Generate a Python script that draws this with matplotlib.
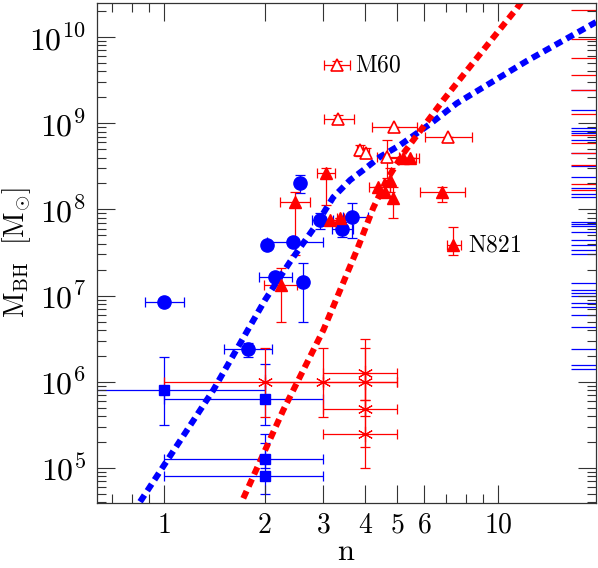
import numpy as np
import matplotlib
matplotlib.use('Agg')
import matplotlib.pyplot as plt
from matplotlib.ticker import FixedLocator, FixedFormatter, LogLocator, FuncFormatter, NullFormatter

plt.rcParams['mathtext.fontset'] = 'cm'
plt.rcParams['font.family'] = 'serif'
plt.rcParams['font.serif'] = ['cmr10', 'DejaVu Serif']
plt.rcParams['axes.formatter.use_mathtext'] = True

# Sersic galaxies (blue circles)
sersic_n = [1.00, 1.78, 2.03, 2.44, 2.55, 2.15, 2.61, 2.93, 3.65, 3.40]
sersic_m = [8.4e6, 2.4e6, 3.9e7, 4.2e7, 2.0e8, 1.66e7, 1.45e7, 7.5e7, 8.2e7, 6.0e7]
sersic_n_lo = [0.877, 1.51, 2.03, 2.03, 2.55, 1.92, 2.61, 2.77, 3.44, 3.18]
sersic_n_hi = [1.148, 2.10, 2.03, 3.00, 2.55, 2.41, 2.61, 3.21, 4.09, 3.69]
sersic_m_lo = [8.4e6, 1.96e6, 3.9e7, 4.2e7, 1.54e8, 1.66e7, 5.0e6, 6.0e7, 4.6e7, 4.8e7]
sersic_m_hi = [8.4e6, 2.82e6, 3.9e7, 4.2e7, 2.5e8, 1.66e7, 2.37e7, 9.0e7, 1.18e8, 7.2e7]

# blue squares
sq_n = [1.0, 2.0, 2.0, 2.0]
sq_m = [8.0e5, 6.3e5, 1.26e5, 8.0e4]
sq_n_lo = [0.5, 1.0, 1.0, 1.0]
sq_n_hi = [2.0, 3.0, 3.0, 3.0]
sq_m_lo = [3.16e5, 3.16e5, 9.9e4, 5.0e4]
sq_m_hi = [1.95e6, 1.6e6, 2.5e5, 1.96e5]

# red asterisks
ast_n = [2.0, 3.0, 4.0, 4.0, 4.0, 4.0]
ast_m = [9.9e5, 1.0e6, 1.26e6, 1.0e6, 4.9e5, 2.5e5]
ast_n_lo = [1.0, 2.0, 3.0, 3.0, 3.0, 3.0]
ast_n_hi = [3.0, 5.0, 5.0, 5.0, 5.0, 5.0]
ast_m_lo = [3.9e5, 3.9e5, 6.2e5, 4.0e5, 1.75e5, 1.0e5]
ast_m_hi = [2.5e6, 2.45e6, 3.1e6, 2.5e6, 1.25e6, 6.2e5]

# core-Sersic galaxies (red filled triangles)
cs_n = [2.24, 2.47, 3.06, 3.14, 3.37, 4.38, 4.59, 4.86, 4.75, 5.20, 5.45, 6.78, 7.35]
cs_m = [1.33e7, 1.23e8, 2.67e8, 7.5e7, 7.9e7, 1.83e8, 1.6e8, 1.35e8, 2.19e8, 4.0e8, 3.9e8, 1.6e8, 3.87e7]
cs_n_lo = [1.99, 2.22, 2.87, 3.00, 3.30, 4.12, 4.59, 4.86, 4.75, 4.70, 5.10, 5.84, 7.05]
cs_n_hi = [2.50, 2.74, 3.25, 3.48, 3.45, 4.75, 4.59, 4.86, 4.75, 5.70, 5.80, 7.96, 7.73]
cs_m_lo = [4.98e6, 2.96e7, 1.12e8, 7.5e7, 7.9e7, 1.83e8, 1.6e8, 7.9e7, 1.6e8, 4.0e8, 3.9e8, 1.23e8, 2.96e7]
cs_m_hi = [2.07e7, 1.6e8, 3.0e8, 7.5e7, 7.9e7, 1.83e8, 1.6e8, 1.83e8, 3.0e8, 4.0e8, 3.9e8, 1.83e8, 6.3e7]

# red open triangles
op_n = [3.29, 3.32, 4.88, 7.07, 3.86, 4.03, 4.64]
op_m = [4.73e9, 1.12e9, 9.1e8, 6.97e8, 4.9e8, 4.5e8, 4.1e8]
op_n_lo = [3.02, 3.02, 4.19, 6.05, 3.78, 3.95, 4.34]
op_n_hi = [3.60, 3.71, 5.71, 8.34, 3.95, 4.12, 5.05]
op_m_lo = [4.2e9, 1.0e9, 9.1e8, 6.97e8, 4.2e8, 3.9e8, 2.3e8]
op_m_hi = [5.3e9, 1.25e9, 9.1e8, 6.97e8, 5.6e8, 5.2e8, 6.4e8]

# relations (dotted curves)
blue_fit_n = [0.848, 1.405, 2.006, 2.384, 2.83, 3.213, 3.606, 3.95, 4.43, 5.09, 6.26, 7.52, 12.19, 19.65]
blue_fit_m = [4.06e4, 8.04e5, 8.89e6, 2.47e7, 6.3e7, 1.39e8, 2.19e8, 2.86e8, 4.06e8, 5.58e8, 9.8e8, 1.70e9, 5.27e9, 1.49e10]
red_fit_n = [1.727, 2.276, 3.0, 3.78, 4.23, 4.64, 5.21, 6.86, 9.03, 11.38, 11.96]
red_fit_m = [4.45e4, 4.71e5, 3.99e6, 3.38e7, 1.04e8, 2.19e8, 4.48e8, 1.86e9, 7.06e9, 2.15e10, 2.83e10]

# log M_BH of galaxies without n (right-hand rug)
red_rug = [10.31, 9.98, 9.76, 9.56, 9.385, 9.11, 8.86, 8.77, 8.655, 8.51, 8.295, 8.225]
blue_rug = [9.385, 9.15, 8.945, 8.91, 8.885, 8.805, 8.655, 8.505, 8.375, 8.25, 8.18, 8.145,
            7.855, 7.83, 7.81, 7.74, 7.645, 7.585, 7.53, 7.485, 7.145, 7.065, 7.03, 6.995,
            6.915, 6.87, 6.775, 6.635, 6.38, 6.195, 6.15]


def errs(v, lo, hi):
    v = np.array(v)
    return [v - np.array(lo), np.array(hi) - v]


fig = plt.figure(figsize=(5.98, 5.68), dpi=100)
ax = fig.add_axes([0.1622, 0.1153, 0.8345, 0.8794])
ax.set_xscale('log')
ax.set_yscale('log')

eb = dict(fmt='none', elinewidth=0.9, capsize=3.4, capthick=0.9, zorder=1)
ax.errorbar(sersic_n, sersic_m, xerr=errs(sersic_n, sersic_n_lo, sersic_n_hi),
            yerr=errs(sersic_m, sersic_m_lo, sersic_m_hi), ecolor='blue', **eb)
ax.errorbar(sq_n, sq_m, xerr=errs(sq_n, sq_n_lo, sq_n_hi),
            yerr=errs(sq_m, sq_m_lo, sq_m_hi), ecolor='blue', **eb)
ax.errorbar(ast_n, ast_m, xerr=errs(ast_n, ast_n_lo, ast_n_hi),
            yerr=errs(ast_m, ast_m_lo, ast_m_hi), ecolor='red', **eb)
ax.errorbar(cs_n, cs_m, xerr=errs(cs_n, cs_n_lo, cs_n_hi),
            yerr=errs(cs_m, cs_m_lo, cs_m_hi), ecolor='red', **eb)
ax.errorbar(op_n, op_m, xerr=errs(op_n, op_n_lo, op_n_hi),
            yerr=errs(op_m, op_m_lo, op_m_hi), ecolor='red', **eb)

dots = (0, (1.3, 0.85))
ax.plot(blue_fit_n, blue_fit_m, color='blue', lw=4.4, ls=dots, dash_capstyle='butt', zorder=2)
ax.plot(red_fit_n, red_fit_m, color='red', lw=4.4, ls=dots, dash_capstyle='butt', zorder=2)

ax.plot(sersic_n, sersic_m, 'o', color='blue', ms=9.5, zorder=3)
ax.plot(sq_n, sq_m, 's', color='blue', ms=7, zorder=3)
ax.plot(ast_n, ast_m, ls='none', marker=(6, 2, 0), color='red', ms=11, mew=0.8, zorder=3)
ax.plot(cs_n, cs_m, '^', color='red', ms=8, zorder=3)
ax.plot(op_n, op_m, '^', mfc='white', mec='red', mew=1.2, ms=8, zorder=3)

ax.hlines(10 ** np.array(blue_rug), 16.5, 20, color='blue', lw=0.9, zorder=1)
ax.hlines(10 ** np.array(red_rug), 16.5, 20, color='red', lw=0.9, zorder=1)

ax.text(3.73, 4.73e9, r'$\mathrm{M60}$', fontsize=17, va='center', ha='left')
ax.text(8.13, 3.87e7, r'$\mathrm{N821}$', fontsize=17, va='center', ha='left')

ax.set_xlim(0.63, 19.65)
ax.set_ylim(3.98e4, 2.48e10)

ax.xaxis.set_major_locator(FixedLocator([1, 2, 3, 4, 5, 6, 10]))
ax.xaxis.set_major_formatter(FixedFormatter([r'$1$', r'$2$', r'$3$', r'$4$', r'$5$', r'$6$', r'$10$']))
ax.xaxis.set_minor_locator(FixedLocator([0.7, 0.8, 0.9, 7, 8, 9]))
ax.xaxis.set_minor_formatter(NullFormatter())
ax.yaxis.set_major_locator(LogLocator(base=10))
ax.yaxis.set_minor_locator(LogLocator(base=10, subs=np.arange(2, 10)))
ax.yaxis.set_major_formatter(FuncFormatter(lambda v, p: r'$10^{%d}$' % round(np.log10(v))))
ax.yaxis.set_minor_formatter(NullFormatter())

ax.tick_params(which='both', direction='in', top=True, right=True, width=0.8, color='#333333')
ax.tick_params(which='major', length=13)
ax.tick_params(which='minor', length=6.5)
ax.tick_params(axis='x', labelsize=20, pad=7)
ax.tick_params(axis='y', labelsize=23, pad=8)
for s in ax.spines.values():
    s.set_linewidth(0.9)
    s.set_color('#333333')

ax.set_xlabel(r'$\mathrm{n}$', fontsize=22, labelpad=0)
ax.set_ylabel(r'$\mathrm{M_{BH}\ \ [M_{\odot}]}$', fontsize=20)
ax.yaxis.set_label_coords(-0.128, 0.5)

fig.savefig('out.png', dpi=100)
